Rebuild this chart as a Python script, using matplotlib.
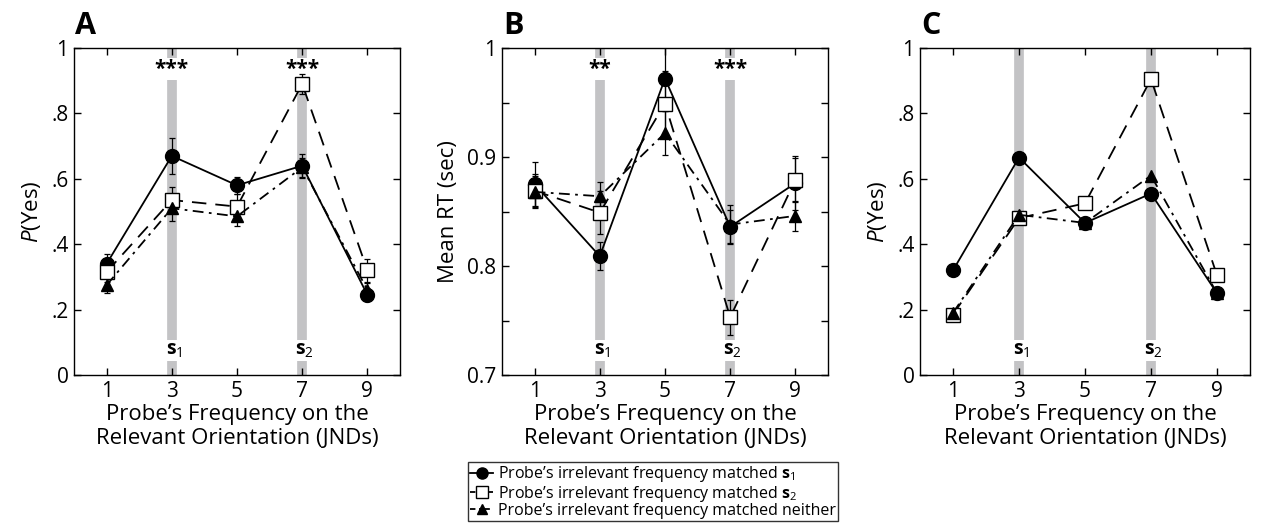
import numpy as np
import matplotlib
matplotlib.use("Agg")
import matplotlib.pyplot as plt
from matplotlib.lines import Line2D

plt.rcParams['font.family'] = ['Open Sans', 'DejaVu Sans']
plt.rcParams['mathtext.fontset'] = 'custom'
plt.rcParams['mathtext.rm'] = 'Open Sans'
plt.rcParams['mathtext.it'] = 'Open Sans:italic'
plt.rcParams['mathtext.bf'] = 'Open Sans:bold'

# --- data ---
freq = [1, 3, 5, 7, 9]

# Panel A: P(Yes)
a_s1 = [0.34, 0.67, 0.58, 0.64, 0.245]
a_s1_err = [0.03, 0.055, 0.027, 0.037, 0.02]
a_s2 = [0.315, 0.535, 0.515, 0.89, 0.32]
a_s2_err = [0.03, 0.04, 0.04, 0.03, 0.035]
a_nei = [0.275, 0.51, 0.485, 0.635, 0.26]
a_nei_err = [0.025, 0.04, 0.03, 0.03, 0.02]

# Panel B: mean RT (sec)
b_s1 = [0.875, 0.809, 0.972, 0.836, 0.876]
b_s1_err = [0.02, 0.013, 0.03, 0.015, 0.025]
b_s2 = [0.869, 0.849, 0.949, 0.753, 0.879]
b_s2_err = [0.015, 0.02, 0.03, 0.016, 0.02]
b_nei = [0.868, 0.864, 0.922, 0.838, 0.846]
b_nei_err = [0.015, 0.013, 0.02, 0.018, 0.014]

# Panel C: P(Yes), no error bars
c_s1 = [0.32, 0.665, 0.465, 0.555, 0.25]
c_s2 = [0.185, 0.48, 0.525, 0.905, 0.305]
c_nei = [0.19, 0.49, 0.465, 0.61, 0.25]

stim_x = [3, 7]
stim_names = [r'$\mathbf{s}_1$', r'$\mathbf{s}_2$']
stars_a = ['***', '***']
stars_b = ['**', '***']

W, H = 1262, 527
fig = plt.figure(figsize=(W / 100, H / 100), dpi=100)

styles = [
    dict(ls='-', marker='o', mfc='black', ms=10, dashes=None),
    dict(ls='--', marker='s', mfc='white', ms=10, dashes=(8, 5)),
    dict(ls='-.', marker='^', mfc='black', ms=9, dashes=(6, 3, 1.5, 3)),
]


def panel(rect, series, errs, ylim, yticks, yticklabels, ylabel, letter, stars, minor=None):
    ax = fig.add_axes(rect)
    ax.set_xlim(0, 10)
    ax.set_ylim(*ylim)
    lo, hi = ylim
    span = hi - lo
    for sx, name, k in zip(stim_x, stim_names, range(2)):
        ax.axvline(sx, color='#c3c3c5', lw=7, zorder=0)
        ax.text(sx + 0.08, lo + 0.075 * span, name, ha='center', va='center', fontsize=14,
                bbox=dict(facecolor='white', edgecolor='none', pad=1), zorder=1)
        if stars:
            ax.text(sx, lo + 0.935 * span, stars[k], ha='center', va='center', fontsize=15,
                    fontweight='bold', bbox=dict(facecolor='white', edgecolor='none', pad=0.5), zorder=1)
    for i, (y, st) in enumerate(zip(series, styles)):
        if errs is not None:
            ax.errorbar(freq, y, yerr=errs[i], fmt='none', ecolor='black', elinewidth=0.9,
                        capsize=2.5, capthick=0.9, zorder=2)
        line, = ax.plot(freq, y, color='black', lw=1.3, ls=st['ls'], marker=st['marker'],
                        mfc=st['mfc'], mec='black', ms=st['ms'], mew=1.0, zorder=3 + i * 0.1)
        if st['dashes']:
            line.set_dashes(st['dashes'])
    ax.set_xticks(freq)
    ax.set_yticks(yticks)
    ax.set_yticklabels(yticklabels)
    if minor is not None:
        ax.set_yticks(minor, minor=True)
    ax.tick_params(direction='in', top=True, right=True, labelsize=15, length=5, width=1, pad=4)
    ax.tick_params(which='minor', direction='in', right=True, length=5, width=1)
    for sp in ax.spines.values():
        sp.set_linewidth(1.0)
    ax.set_xlabel("Probe\u2019s Frequency on the\nRelevant Orientation (JNDs)", fontsize=16,
                  linespacing=1.15, labelpad=2)
    ax.set_ylabel(ylabel, fontsize=16, labelpad=6)
    fig.text(rect[0] + 0.001, 0.951, letter, fontsize=22, fontweight='bold', ha='left', va='center')
    return ax


py = ['0', '.2', '.4', '.6', '.8', '1']
pt = [0, 0.2, 0.4, 0.6, 0.8, 1.0]

panel([74 / W, 152 / H, 326 / W, 327 / H], [a_s1, a_s2, a_nei], [a_s1_err, a_s2_err, a_nei_err],
      (0, 1), pt, py, r'$\it{P}$(Yes)', 'A', stars_a)
panel([502 / W, 152 / H, 326 / W, 327 / H], [b_s1, b_s2, b_nei], [b_s1_err, b_s2_err, b_nei_err],
      (0.7, 1.0), [0.7, 0.8, 0.9, 1.0], ['0.7', '0.8', '0.9', '1'], 'Mean RT (sec)', 'B', stars_b,
      minor=[0.75, 0.85, 0.95])
panel([920 / W, 152 / H, 330 / W, 327 / H], [c_s1, c_s2, c_nei], None,
      (0, 1), pt, py, r'$\it{P}$(Yes)', 'C', None)

labels = [r"Probe's irrelevant frequency matched $\mathbf{s}_1$",
          r"Probe's irrelevant frequency matched $\mathbf{s}_2$",
          "Probe's irrelevant frequency matched neither"]
labels = [l.replace("'", "\u2019") for l in labels]
handles = []
for st in styles:
    h = Line2D([], [], color='black', lw=1.3, ls=st['ls'], marker=st['marker'], mfc=st['mfc'],
               mec='black', ms=st['ms'] * 0.8)
    if st['dashes']:
        h.set_dashes((3, 2) if st['ls'] == '--' else (3, 2, 1, 2))
    handles.append(h)
leg = fig.legend(handles, labels, loc='upper left', bbox_to_anchor=(468 / W, 1 - 462 / H),
                 frameon=True, fancybox=False, edgecolor='black', fontsize=11.5, handlelength=1.4,
                 handletextpad=0.3, borderpad=0.15, labelspacing=-0.05, borderaxespad=0)
leg.get_frame().set_linewidth(1.0)

fig.savefig('out.png', dpi=100)
